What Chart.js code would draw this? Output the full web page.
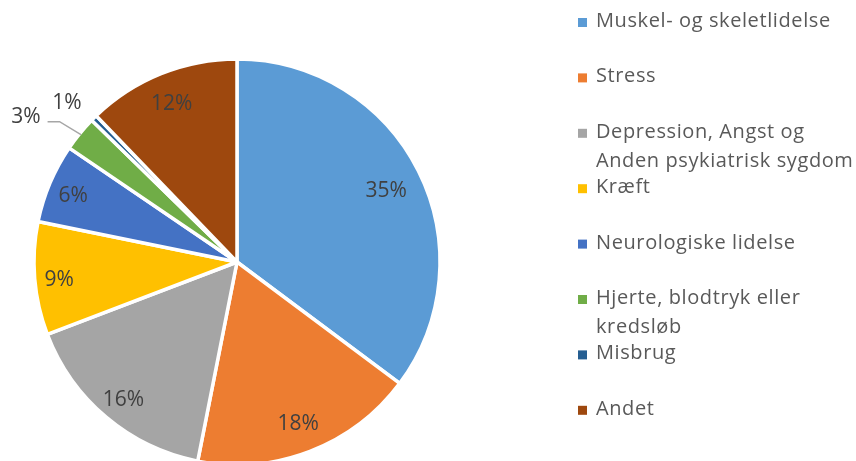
<!DOCTYPE html>
<html><head><meta charset="utf-8">
<script src="https://cdn.jsdelivr.net/npm/chart.js@4.4.1/dist/chart.umd.min.js"></script>
<style>html,body{margin:0;padding:0;background:#fff;overflow:hidden}#wrap{position:relative;width:856px;height:461px}</style>
</head><body><div id="wrap"><canvas id="c"></canvas></div>
<script>
// ---- data ----
const categories = [
  ["Muskel- og skeletlidelse"],
  ["Stress"],
  ["Depression, Angst og", "Anden psykiatrisk sygdom"],
  ["Kræft"],
  ["Neurologiske lidelse"],
  ["Hjerte, blodtryk eller", "kredsløb"],
  ["Misbrug"],
  ["Andet"]
];
const values = [35.2, 17.9, 16.1, 9.0, 6.3, 2.8, 0.5, 12.2];
const colors = ["#5B9BD5", "#ED7D31", "#A5A5A5", "#FFC000", "#4472C4", "#70AD47", "#255E91", "#9E480E"];
// label placement mode per slice (small slices are labelled outside)
const labelModes = ["inside", "inside", "inside", "inside", "inside", "leader", "outside", "inside"];

const FONT = '"Open Sans", sans-serif';

const pieLabels = {
  id: 'pieLabels',
  afterDatasetsDraw(chart) {
    const ctx = chart.ctx;
    const meta = chart.getDatasetMeta(0);
    const data = chart.data.datasets[0].data;
    const total = data.reduce((a, b) => a + b, 0);
    ctx.save();
    ctx.font = '21px ' + FONT;
    ctx.fillStyle = '#404040';
    ctx.textBaseline = 'alphabetic';
    const capHalf = 21 * 0.714 / 2;
    meta.data.forEach((arc, i) => {
      const p = arc.getProps(['x', 'y', 'startAngle', 'endAngle', 'outerRadius'], true);
      const mid = (p.startAngle + p.endAngle) / 2;
      const R = p.outerRadius - 1.5;
      const c = Math.cos(mid), s = Math.sin(mid);
      const txt = Math.round(data[i] / total * 100) + '%';
      const mode = labelModes[i];
      if (mode === 'inside') {
        const k = 0.855 - 0.03 * c;
        ctx.textAlign = 'center';
        ctx.fillText(txt, p.x + c * R * k, p.y + s * R * k + capHalf + 2);
      } else if (mode === 'leader') {
        const sx = p.x + c * R, sy = p.y + s * R;
        const ex = p.x + c * (R + 25) - 2, ey = p.y + s * (R + 25) + 3;
        ctx.strokeStyle = '#A6A6A6';
        ctx.lineWidth = 1.5;
        ctx.beginPath();
        ctx.moveTo(sx, sy);
        ctx.lineTo(ex, ey);
        ctx.lineTo(ex - 12, ey);
        ctx.stroke();
        ctx.textAlign = 'right';
        ctx.fillText(txt, ex - 19, ey + 1);
      } else {
        const ax = p.x + c * (R + 12), ay = p.y + s * (R + 12);
        ctx.textAlign = 'right';
        ctx.fillText(txt, ax - 5, ay - 2);
      }
    });
    ctx.restore();
  }
};

const sideLegend = {
  id: 'sideLegend',
  afterDraw(chart) {
    const ctx = chart.ctx;
    const top = 27, step = 55.4, lineGap = 28.7, boxX = 578, textX = 596, box = 9;
    ctx.save();
    ctx.font = '20px ' + FONT;
    if ('letterSpacing' in ctx) ctx.letterSpacing = '0.6px';
    ctx.textAlign = 'left';
    ctx.textBaseline = 'alphabetic';
    chart.data.labels.forEach((lines, i) => {
      const base = top + i * step;
      ctx.fillStyle = chart.data.datasets[0].backgroundColor[i];
      ctx.fillRect(boxX, base - box, box, box);
      ctx.fillStyle = '#595959';
      lines.forEach((l, j) => ctx.fillText(l, textX, base + j * lineGap));
    });
    ctx.restore();
  }
};

new Chart(document.getElementById('c'), {
  type: 'pie',
  data: {
    labels: categories,
    datasets: [{
      data: values,
      backgroundColor: colors,
      borderColor: '#ffffff',
      borderWidth: 3.5,
      radius: 203,
      clip: false
    }]
  },
  options: {
    responsive: true,
    maintainAspectRatio: false,
    animation: false,
    radius: 203,
    layout: { padding: { left: 0, right: 382, top: 63, bottom: 0 } },
    plugins: { legend: { display: false }, tooltip: { enabled: false } }
  },
  plugins: [pieLabels, sideLegend]
});
</script>
</body></html>
